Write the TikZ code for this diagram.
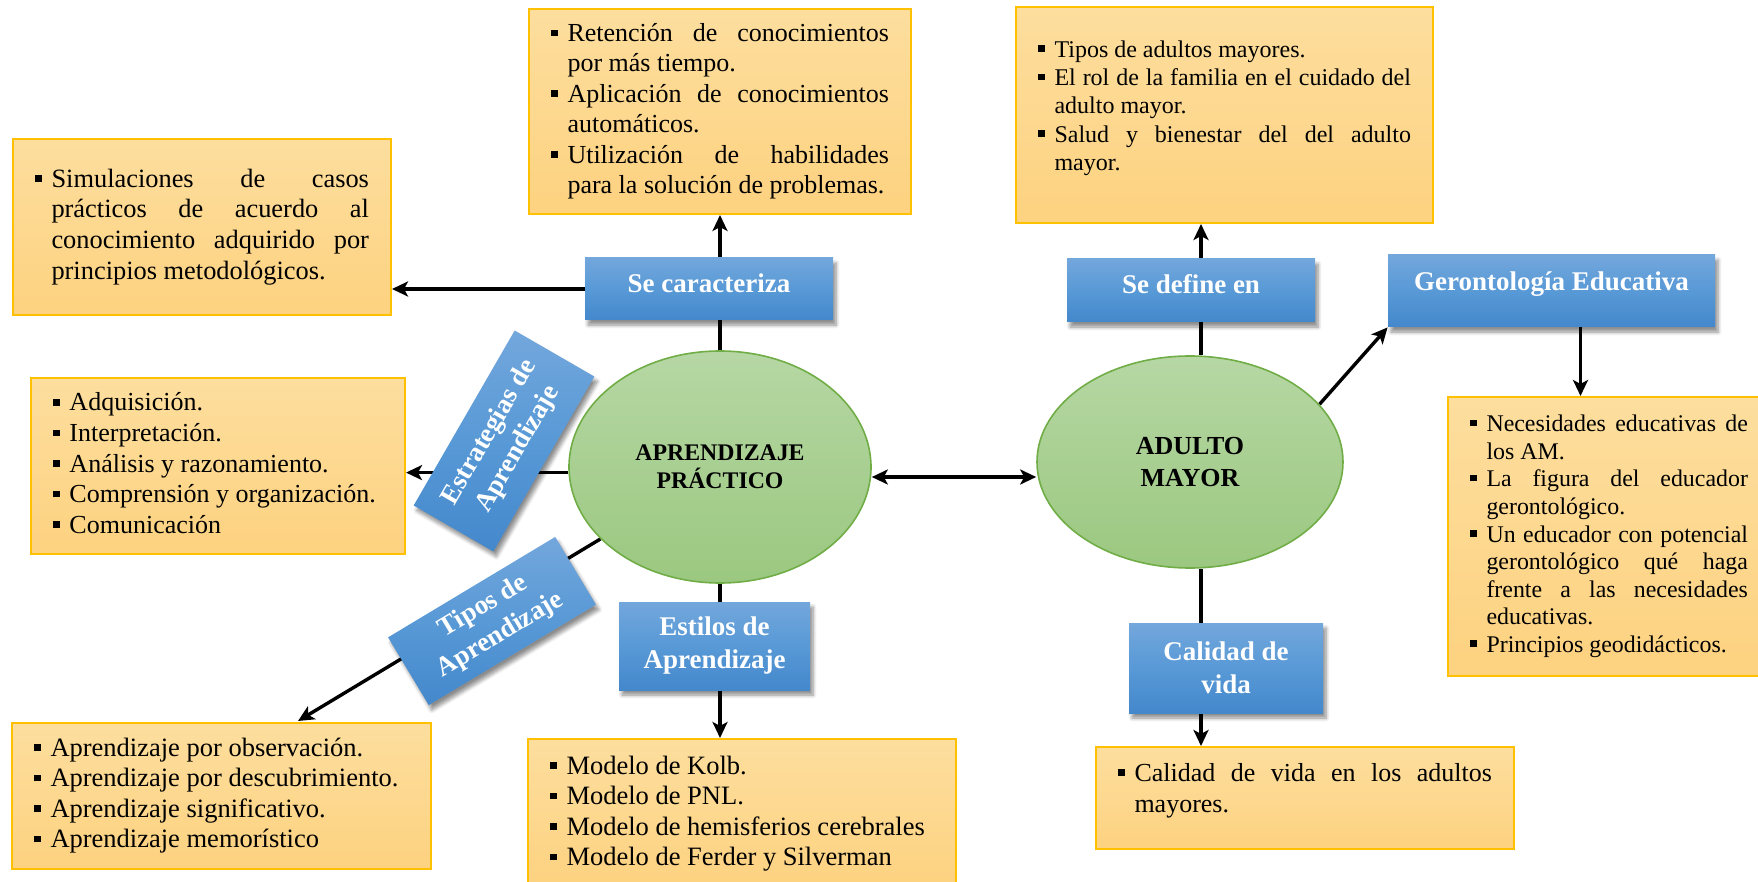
\documentclass[tikz,border=0pt]{standalone}
\usepackage{fontspec}
\setmainfont{Liberation Serif}
\usepackage{xcolor}
\usetikzlibrary{positioning, arrows.meta, shapes.geometric, shadows.blur, backgrounds}

\definecolor{naranjaA}{RGB}{253,222,158}
\definecolor{naranjaB}{RGB}{253,210,128}
\definecolor{dorado}{RGB}{255,192,0}
\definecolor{azulA}{RGB}{115,167,220}
\definecolor{azulM}{RGB}{88,153,214}
\definecolor{azulB}{RGB}{68,136,204}
\definecolor{verdeA}{RGB}{182,215,164}
\definecolor{verdeB}{RGB}{155,200,128}
\definecolor{verdeBorde}{RGB}{112,173,71}

\hyphenpenalty=10000
\exhyphenpenalty=10000
\tolerance=10000
\hbadness=10000

\newcommand{\punto}[1]{\noindent\makebox[8.25pt][l]{\rule[2.7pt]{3.3pt}{3.3pt}}\parbox[t]{\dimexpr\hsize-8.25pt\relax}{\strut#1\strut}\par\prevdepth=\dp\strutbox}

\begin{document}
\begin{tikzpicture}[
  x=0.5pt, y=-0.5pt,
  lista/.style={draw=dorado, line width=1pt, top color=naranjaA, bottom color=naranjaB,
    anchor=north west, inner xsep=11pt, inner ysep=0pt, align=justify},
  etiqueta/.style={rectangle, top color=azulA, bottom color=azulB, middle color=azulM,
    inner sep=0pt, align=center, text=white,
    font=\fontsize{13.5}{16.5}\selectfont\bfseries,
    blur shadow={shadow xshift=1.5pt, shadow yshift=-2.5pt, shadow opacity=45, shadow blur steps=6}},
  elipse/.style={ellipse, draw=verdeBorde, line width=0.8pt, top color=verdeA, bottom color=verdeB,
    inner sep=0pt, align=center},
  arr/.style={-{Stealth[length=8pt, width=7.5pt, inset=2pt]}, line width=1.7pt},
  darr/.style={{Stealth[length=8pt, width=7.5pt, inset=2pt]}-{Stealth[length=8pt, width=7.5pt, inset=2pt]}, line width=1.7pt},
]
  \useasboundingbox (0,0) rectangle (1758,882);

  \node[elipse, minimum width=151pt, minimum height=116pt, font=\fontsize{11.9}{14}\selectfont\bfseries]
    (ap) at (720,467) {APRENDIZAJE\\PRÁCTICO};
  \node[elipse, minimum width=153pt, minimum height=106pt, font=\fontsize{13}{16}\selectfont\bfseries]
    (am) at (1190,462) {ADULTO\\MAYOR};

  \node[lista, text width=167pt, minimum height=88pt, font=\fontsize{13.2}{15.35}\selectfont] (simul) at (12,138)
    {\punto{Simulaciones de casos\linebreak prácticos de acuerdo al\linebreak conocimiento adquirido por\linebreak principios metodológicos.}};
  \node[lista, text width=169pt, minimum height=102.5pt, font=\fontsize{13}{15.2}\selectfont] (reten) at (528,8)
    {\punto{Retención de conocimientos\linebreak por más tiempo.}
     \punto{Aplicación de conocimientos\linebreak automáticos.}
     \punto{Utilización de habilidades\linebreak para la solución de problemas.}};
  \node[lista, text width=186.5pt, minimum height=108pt, font=\fontsize{12}{14.15}\selectfont] (tipad) at (1015,6)
    {\punto{Tipos de adultos mayores.}
     \punto{El rol de la familia en el cuidado del\linebreak adulto mayor.}
     \punto{Salud y bienestar del del adulto\linebreak mayor.\rule[-11pt]{0pt}{1pt}}};
  \node[lista, text width=165pt, minimum height=88pt, font=\fontsize{13}{15.3}\selectfont] (adq) at (30,377)
    {\punto{Adquisición.}
     \punto{Interpretación.}
     \punto{Análisis y razonamiento.}
     \punto{Comprensión y organización.}
     \punto{Comunicación}};
  \node[lista, text width=187.5pt, minimum height=73pt, font=\fontsize{13.25}{15.25}\selectfont] (apr) at (11,722)
    {\punto{Aprendizaje por observación.}
     \punto{Aprendizaje por descubrimiento.}
     \punto{Aprendizaje significativo.}
     \punto{Aprendizaje memorístico}};
  \node[lista, text width=192pt, minimum height=75pt, font=\fontsize{13.25}{15.25}\selectfont] (mod) at (527,738)
    {\punto{Modelo de Kolb.}
     \punto{Modelo de PNL.}
     \punto{Modelo de hemisferios cerebrales}
     \punto{Modelo de Ferder y Silverman}};
  \node[lista, text width=187pt, minimum height=51pt, font=\fontsize{13}{15.5}\selectfont] (cv) at (1095,746)
    {\punto{Calidad de vida en los adultos\linebreak mayores.\rule[-12pt]{0pt}{1pt}}};
  \node[lista, text width=139pt, minimum height=139.5pt, font=\fontsize{11.95}{13.8}\selectfont] (gbox) at (1447,396)
    {\punto{Necesidades educativas de\linebreak los AM.}
     \punto{La figura del educador\linebreak gerontológico.}
     \punto{Un educador con potencial\linebreak gerontológico qué haga\linebreak frente a las necesidades\linebreak educativas.}
     \punto{Principios geodidácticos.}};

  \node[etiqueta, minimum width=124pt, minimum height=31pt, text depth=6pt] (secar) at (709,289) {Se caracteriza};
  \node[etiqueta, minimum width=124pt, minimum height=31.5pt, text depth=6.5pt] (sdef) at (1191,290.5) {Se define en};
  \node[etiqueta, minimum width=163.5pt, minimum height=36pt, text depth=10pt] (ger) at (1551.5,291) {Gerontología Educativa};
  \node[etiqueta, minimum width=95.5pt, minimum height=44pt] (estil) at (714.5,646) {Estilos de\\Aprendizaje};
  \node[etiqueta, minimum width=97pt, minimum height=45pt] (calv) at (1226,668) {Calidad de\\vida};
  \node[etiqueta, minimum width=101pt, minimum height=46pt, rotate=60] (estr) at (504,441) {Estrategias de\\Aprendizaje};
  \node[etiqueta, minimum width=97.5pt, minimum height=39.5pt, rotate=31] (tipa) at (492,621) {Tipos de\\Aprendizaje};

  \coordinate (tipfin) at (298,721);
  \coordinate (apw) at ([yshift=-2.8pt]ap.west);
  \coordinate (amn) at ([xshift=5.5pt]am.north);
  \coordinate (ams) at ([xshift=5.5pt]am.south);
  \coordinate (gers) at ([xshift=14.5pt]ger.south);
  \coordinate (ape) at ([yshift=-5pt]ap.east);
  \coordinate (amw) at ([yshift=-7.5pt]am.west);

  \begin{scope}[on background layer]
    \draw[arr] (ap.north) -- (ap.north |- reten.south);
    \draw[arr] (secar.west) -- (secar.west -| simul.east);
    \draw[arr] (apw) -- (apw -| adq.east);
    \draw[arr] (ap) -- (tipfin);
    \draw[arr] (ap.south) -- (ap.south |- mod.north);
    \draw[arr] (amn) -- (amn |- tipad.south);
    \draw[arr] (ams) -- (ams |- cv.north);
    \draw[arr] (am.24) -- (ger.south west);
    \draw[arr] (gers) -- (gers |- gbox.north);
    \draw[darr] (ape) -- (amw);
  \end{scope}
\end{tikzpicture}
\end{document}
